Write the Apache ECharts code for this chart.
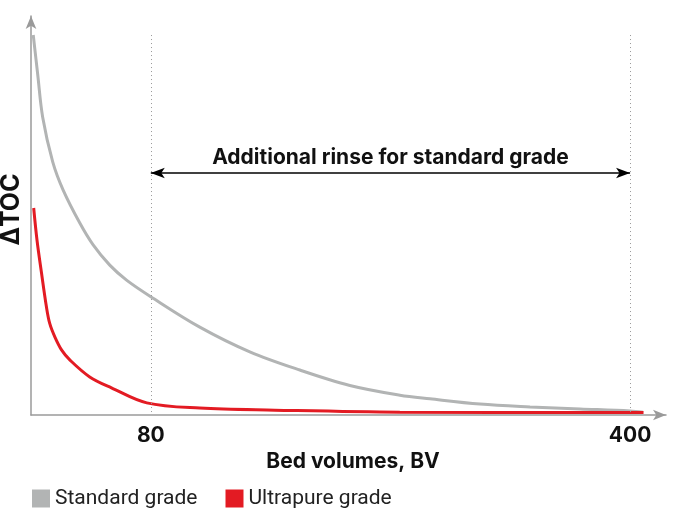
<!DOCTYPE html>
<html>
<head>
<meta charset="utf-8">
<style>
  html, body { margin: 0; padding: 0; background: #fff; }
  #chart { width: 674px; height: 524px; }
</style>
<script src="https://cdn.jsdelivr.net/npm/echarts@6/dist/echarts.min.js"></script>
</head>
<body>
<div id="chart"></div>
<script>
  // bed volumes (BV) and ΔTOC
  const bvStandard = [1.5, 4.5, 7.8, 14.5, 21.4, 32.6, 41.5, 52.6, 63.8, 80, 112.7, 146.1, 179.5, 212.9, 246.3, 266.4, 299.8, 333.2, 366.6, 400, 408.7];
  const tocStandard = [93.8, 84.0, 73.5, 62.5, 55.6, 47.4, 42.0, 37.0, 33.3, 29.2, 21.7, 15.6, 11.1, 7.3, 4.9, 4.0, 2.7, 2.0, 1.5, 1.0, 0.7];
  const bvUltra = [1.8, 4.0, 7.0, 10.3, 12.5, 15.9, 20.5, 25.9, 39.2, 53.7, 77.3, 112.7, 162.8, 246.3, 409];
  const tocUltra = [51.1, 43.2, 35.1, 26.7, 22.6, 19.3, 16.0, 13.6, 9.4, 6.7, 3.0, 1.7, 1.2, 0.7, 0.6];
  const xTicks = [80, 400];
  const rinseLabel = 'Additional rinse for standard grade';

  const font = 'Roboto, "Liberation Sans", sans-serif';
  const boldFont = 'Inter, Roboto, sans-serif';
  const axisGray = '#9a9a9a';

  function pairs(xs, ys) {
    return xs.map((x, i) => [x, ys[i]]);
  }

  let chart = echarts.init(document.getElementById('chart'));
  chart.setOption({
    animation: false,
    textStyle: { fontFamily: font },
    grid: { left: 31, right: 8, top: 16, bottom: 109, outerBoundsMode: 'none', containLabel: false },
    legend: {
      left: 27,
      top: 483,
      icon: 'rect',
      itemWidth: 18,
      itemHeight: 18,
      itemGap: 28,
      textStyle: { fontSize: 21, color: '#222', fontFamily: font },
      data: ['Standard grade', 'Ultrapure grade']
    },
    xAxis: {
      type: 'value',
      min: 0,
      max: 424,
      name: 'Bed volumes, BV',
      nameLocation: 'middle',
      nameGap: 36,
      nameTextStyle: { fontSize: 21, fontWeight: 'bold', color: '#111', fontFamily: boldFont, padding: [0, 0, 0, 9] },
      axisLine: { show: true, symbol: ['none', 'arrow'], symbolSize: [8, 13], lineStyle: { color: axisGray, width: 1.5 } },
      axisTick: { show: false },
      splitLine: { show: false },
      axisLabel: { customValues: xTicks, fontSize: 21, fontWeight: 'bold', color: '#111', fontFamily: boldFont, margin: 10 }
    },
    yAxis: {
      type: 'value',
      min: 0,
      max: 98.5,
      name: 'ΔTOC',
      nameLocation: 'middle',
      nameGap: 7,
      nameRotate: 90,
      nameTextStyle: { fontSize: 25, fontWeight: 'bold', color: '#111', fontFamily: boldFont, padding: [0, 0, 0, 12] },
      axisLine: { show: true, symbol: ['none', 'arrow'], symbolSize: [8, 13], lineStyle: { color: axisGray, width: 1.5 } },
      axisTick: { show: false },
      axisLabel: { show: false },
      splitLine: { show: false }
    },
    series: [
      {
        name: 'Standard grade',
        type: 'line',
        color: '#b2b4b4',
        data: pairs(bvStandard, tocStandard),
        smooth: 0.35,
        showSymbol: false,
        lineStyle: { width: 3, color: '#b2b4b4' },
        z: 2,
        markLine: {
          silent: true,
          symbol: 'none',
          label: { show: false },
          lineStyle: { color: '#999', width: 1, type: [1, 3] },
          data: xTicks.map(x => [{ coord: [x, 93.8] }, { coord: [x, 0.5] }])
        }
      },
      {
        name: 'Ultrapure grade',
        type: 'line',
        color: '#e31b23',
        data: pairs(bvUltra, tocUltra),
        smooth: 0.35,
        showSymbol: false,
        lineStyle: { width: 3, color: '#e31b23' },
        z: 3,
        markLine: {
          silent: true,
          symbol: ['arrow', 'arrow'],
          symbolSize: [8, 14],
          lineStyle: { color: '#000', width: 1.5, type: 'solid' },
          label: {
            show: true,
            position: 'insideMiddleTop',
            distance: 5,
            formatter: rinseLabel,
            fontSize: 21,
            fontWeight: 'bold',
            color: '#111',
            fontFamily: boldFont
          },
          data: [[{ coord: [xTicks[0], 59.75] }, { coord: [xTicks[1], 59.75] }]]
        }
      }
    ]
  });
</script>
</body>
</html>
